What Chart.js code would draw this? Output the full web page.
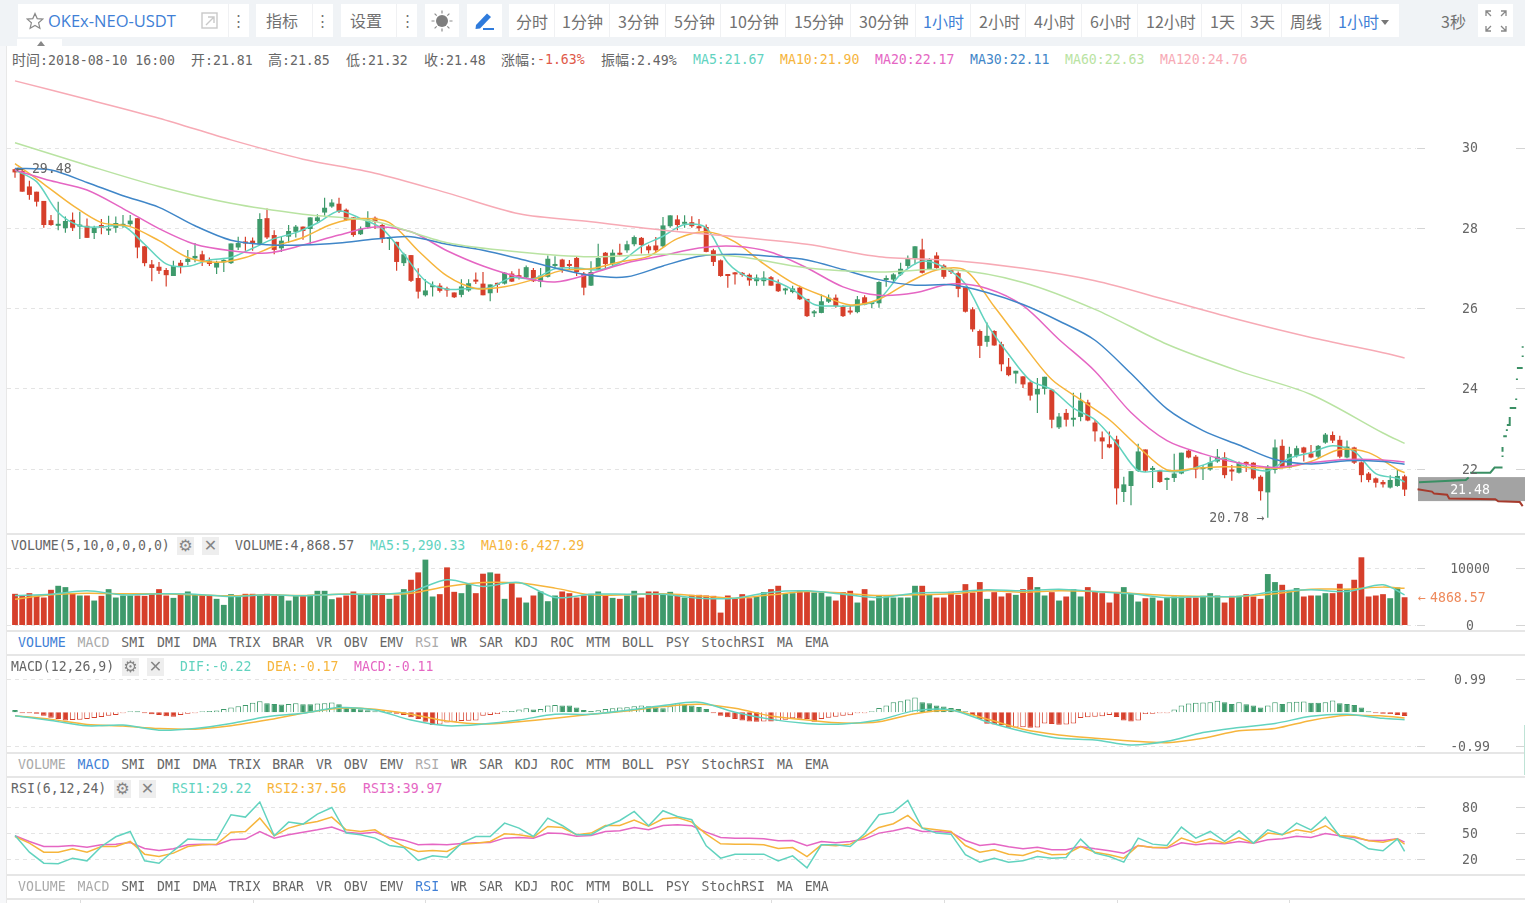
<!DOCTYPE html>
<html>
<head>
<meta charset="utf-8">
<title>OKEx-NEO-USDT</title>
<script src="https://cdn.jsdelivr.net/npm/chart.js@4/dist/chart.umd.min.js"></script>
<style>
  html, body { margin: 0; padding: 0; width: 1525px; height: 903px; overflow: hidden; background: #fff; }
  #toolbar { position: absolute; left: 0; top: 0; width: 1525px; height: 46px; background: #f0f3f6; }
  #strip { position: absolute; left: 0; top: 46px; width: 6px; height: 857px; background: #f6f7f9; border-right: 1px solid #e8e8e8; }
  .btn { position: absolute; top: 4px; height: 33px; background: #fff; }
  .tb { position: absolute; top: 10px; font: 16px "Noto Sans CJK SC", sans-serif; line-height: 22px; color: #717171; white-space: nowrap; }
  .blue { color: #3f7fd6; }
  .div { position: absolute; top: 4px; width: 1px; height: 33px; background: #f0f1f3; }
  .t { position: absolute; font: 13.2px "DejaVu Sans Mono", "Noto Sans CJK SC", monospace; line-height: 16px; color: #666; white-space: pre; }
  .t span { font-size: 14px; }
  .rule { position: absolute; left: 7px; width: 1518px; height: 2px; background: #e6e6e6; }
  .tabs { position: absolute; left: 18px; display: flex; gap: 11.95px; font: 13.2px "DejaVu Sans Mono", monospace; line-height: 16px; color: #666; }
  .ic { position: absolute; width: 17px; height: 18px; background: #eee; color: #858585; font: 16px "DejaVu Sans", sans-serif; line-height: 18px; text-align: center; }
  canvas { position: absolute; left: 0; }
  svg { position: absolute; }
</style>
</head>
<body>
<div id="toolbar"></div>
<div id="strip"></div>
<canvas id="priceChart" width="1525" height="458" style="top:75px"></canvas>
<canvas id="volChart" width="1525" height="75" style="top:555px"></canvas>
<canvas id="macdChart" width="1525" height="80" style="top:672px"></canvas>
<canvas id="rsiChart" width="1525" height="105" style="top:798px"></canvas>
<div id="labels"></div>

<script>
const opens = [
  29.46,29.42,29.03,28.9,28.67,28.19,28.05,27.99,28.2,28.03,
  28.05,27.87,28.07,27.93,28.0,28.05,28.09,28.24,27.54,27.09,
  27.03,26.95,26.8,27.13,27.15,27.24,27.34,27.18,27.01,27.14,
  27.12,27.51,27.64,27.68,27.59,28.24,27.82,27.49,27.78,27.9,
  28.03,27.97,28.17,28.38,28.53,28.6,28.45,28.26,27.84,28.02,
  28.25,28.07,27.72,27.65,27.12,27.32,26.75,26.32,26.52,26.56,
  26.47,26.39,26.33,26.44,26.7,26.61,26.37,26.6,26.61,26.86,
  26.79,26.76,26.95,26.66,26.78,27.05,27.21,27.08,27.25,26.86,
  26.56,26.96,27.38,27.09,27.35,27.44,27.59,27.75,27.54,27.56,
  27.54,28.04,28.21,28.1,28.14,28.02,28.02,27.44,27.19,26.82,
  26.86,26.85,26.83,26.67,26.67,26.77,26.61,26.44,26.4,26.51,
  26.23,25.87,25.88,26.16,26.26,26.05,25.92,25.9,26.27,26.1,
  26.12,26.7,26.71,26.84,27.05,27.23,27.46,26.96,27.31,27.06,
  26.93,26.87,26.52,25.97,25.43,25.16,25.43,25.1,24.54,24.37,
  24.3,24.15,23.85,23.99,23.97,23.03,23.39,23.22,23.29,23.65,
  23.15,22.78,22.61,22.73,21.42,21.57,21.95,22.48,21.97,21.95,
  21.72,21.77,21.88,22.45,22.3,21.99,21.98,22.18,22.28,21.96,
  21.9,22.15,22.15,21.8,21.41,21.97,22.57,22.03,22.32,22.53,
  22.38,22.3,22.65,22.84,22.72,22.28,22.53,22.16,21.88,21.76,
  21.67,21.53,21.57,21.81
];
const closes = [
  29.38,28.9,28.82,28.65,28.07,28.07,28.07,28.17,28.0,28.05,
  27.75,28.0,28.0,27.98,28.12,28.07,28.18,27.51,27.12,27.0,
  26.93,26.82,27.05,27.05,27.23,27.3,27.18,27.1,27.14,27.2,
  27.61,27.62,27.61,27.62,28.22,27.76,27.45,27.68,27.92,28.03,
  27.92,28.26,28.26,28.5,28.63,28.4,28.2,27.82,27.98,28.21,
  28.15,27.72,27.74,27.15,27.34,26.68,26.41,26.44,26.54,26.43,
  26.44,26.27,26.54,26.62,26.66,26.32,26.59,26.58,26.88,26.66,
  26.77,27.02,26.67,26.81,27.23,27.07,27.02,27.05,26.9,26.51,
  26.9,27.25,27.1,27.38,27.33,27.59,27.77,27.57,27.44,27.44,
  28.06,28.31,28.07,28.13,28.04,27.99,27.4,27.15,26.8,26.8,
  26.84,26.83,26.69,26.76,26.76,26.56,26.42,26.46,26.49,26.22,
  25.8,25.89,26.17,26.26,26.05,25.8,25.89,26.22,26.09,26.13,
  26.65,26.73,26.84,26.98,27.25,27.54,26.88,27.21,27.0,26.78,
  26.9,26.48,25.91,25.47,25.06,25.31,25.07,24.6,24.33,24.44,
  24.1,23.82,23.99,24.29,23.22,23.3,23.22,23.24,23.7,23.2,
  22.93,22.68,22.53,21.51,21.61,21.94,22.43,21.95,22.0,21.67,
  21.75,21.88,22.4,22.28,21.98,22.02,22.16,22.3,21.84,21.93,
  22.15,22.12,21.76,21.44,22.05,22.53,22.03,22.37,22.51,22.4,
  22.28,22.57,22.85,22.7,22.3,22.55,22.15,21.84,21.72,21.65,
  21.61,21.72,21.82,21.48
];
const highs = [
  29.48,29.48,29.17,28.9,28.67,28.32,28.65,28.28,28.38,28.4,
  28.23,28.05,28.22,28.3,28.28,28.32,28.32,28.24,27.54,27.2,
  27.15,27.0,27.18,27.2,27.45,27.62,27.43,27.26,27.18,27.22,
  27.61,27.78,27.78,27.76,28.36,28.48,27.94,27.78,28.07,28.07,
  28.03,28.26,28.34,28.75,28.71,28.75,28.48,28.26,28.03,28.41,
  28.28,28.1,27.74,27.65,27.38,27.32,26.99,26.72,26.66,26.62,
  26.53,26.39,26.72,26.72,26.89,26.9,26.59,26.63,26.9,26.92,
  26.98,27.06,27.0,27.0,27.31,27.29,27.23,27.2,27.28,26.9,
  27.17,27.6,27.4,27.46,27.6,27.68,27.81,27.77,27.58,27.77,
  28.27,28.31,28.31,28.31,28.29,28.22,28.08,27.48,27.21,26.84,
  26.9,26.9,26.86,26.84,26.92,26.8,26.71,26.51,26.56,26.56,
  26.23,25.95,26.34,26.34,26.34,26.07,26.07,26.3,26.32,26.17,
  26.67,26.81,26.87,27.13,27.31,27.54,27.73,27.25,27.39,27.09,
  26.99,26.91,26.52,26.02,25.47,25.64,25.45,25.16,24.76,24.44,
  24.3,24.18,24.26,24.29,23.99,23.39,23.49,23.89,23.89,23.72,
  23.22,22.93,22.93,22.82,21.8,21.94,22.62,22.48,22.07,21.97,
  21.78,22.37,22.4,22.48,22.34,22.09,22.3,22.49,22.41,22.09,
  22.18,22.18,22.16,21.84,22.09,22.73,22.73,22.55,22.57,22.55,
  22.59,22.59,22.89,22.93,22.82,22.7,22.55,22.18,21.92,21.78,
  21.72,21.84,21.98,21.85
];
const lows = [
  29.25,28.9,28.7,28.53,28.0,28.05,27.94,27.88,27.92,27.72,
  27.75,27.72,27.84,27.82,27.88,28.0,28.03,27.24,27.04,26.67,
  26.85,26.54,26.8,26.86,27.07,27.14,27.05,27.05,26.85,26.9,
  27.1,27.45,27.43,27.43,27.57,27.72,27.34,27.4,27.63,27.76,
  27.7,27.59,28.13,28.3,28.5,28.37,28.17,27.78,27.82,27.98,
  27.97,27.62,27.45,26.93,27.05,26.65,26.24,26.29,26.29,26.39,
  26.28,26.25,26.27,26.41,26.6,26.32,26.17,26.38,26.59,26.65,
  26.71,26.73,26.65,26.52,26.76,27.0,26.88,26.96,26.8,26.32,
  26.55,26.95,26.98,27.05,27.31,27.38,27.54,27.36,27.36,27.39,
  27.5,28.0,27.94,28.0,28.0,27.92,27.39,27.05,26.78,26.51,
  26.59,26.78,26.56,26.56,26.56,26.56,26.4,26.34,26.37,26.2,
  25.78,25.78,25.87,26.13,26.01,25.78,25.84,25.87,26.07,26.0,
  26.01,26.53,26.63,26.8,27.0,27.09,26.86,26.95,26.98,26.73,
  26.85,26.27,25.89,25.41,24.76,25.04,25.06,24.43,24.3,24.12,
  24.01,23.7,23.39,23.85,23.01,22.99,23.05,23.05,23.18,23.18,
  22.68,22.24,22.51,21.11,21.17,21.09,21.92,21.92,21.52,21.65,
  21.47,21.67,21.86,22.26,21.76,21.72,21.95,22.15,21.76,21.7,
  21.88,21.92,21.73,21.21,20.78,21.88,22.01,22.01,22.28,22.18,
  22.26,22.26,22.62,22.64,22.26,22.26,22.12,21.66,21.66,21.53,
  21.53,21.51,21.55,21.32
];

// moving averages are read every few candles, last value is the final candle
const ma5 = [
  29.44,29.15,28.38,28.05,28.02,28.05,27.59,27.1,27.04,27.2,27.26,27.49,27.73,27.88,28.12,28.42,28.23,27.98,27.34,26.68,26.47,26.49,
  26.51,26.76,26.73,26.98,27.0,26.95,27.13,27.54,27.79,28.08,28.0,27.13,26.76,26.7,26.46,26.09,26.05,26.07,26.22,26.84,27.17,27.02,
  26.6,25.6,24.85,24.2,23.97,23.51,23.22,22.63,21.95,21.95,21.93,22.09,22.26,22.05,21.95,22.26,22.4,22.57,22.43,21.88,21.76,21.67
];
const ma10 = [
  29.6,29.09,28.56,28.13,28.03,27.68,27.26,27.14,27.26,27.54,27.76,28.09,28.23,28.13,27.43,26.8,26.49,
  26.53,26.71,26.94,26.98,27.15,27.29,27.73,27.9,27.65,27.1,26.63,26.32,26.08,26.22,26.63,26.95,
  26.94,26.04,25.1,24.22,23.72,23.22,22.55,21.97,22.01,22.05,22.03,22.02,22.18,22.48,22.4,21.98,21.9
];
const ma20 = [
  29.44,29.17,28.94,28.48,27.98,27.59,27.43,27.37,27.57,27.82,28.02,27.9,27.43,
  27.05,26.78,26.65,26.86,27.13,27.31,27.5,27.54,27.39,27.0,26.53,26.32,26.38,
  26.6,26.49,26.06,25.22,24.43,23.4,22.7,22.37,22.14,22.03,22.15,22.23,22.22,22.17
];
const ma30 = [
  29.48,29.44,29.13,28.8,28.51,28.05,27.69,27.58,27.57,27.62,27.72,27.78,27.59,
  27.44,27.23,27.0,26.81,26.78,27.05,27.29,27.34,27.29,27.2,26.96,26.71,26.57,
  26.58,26.39,26.09,25.68,25.2,24.37,23.49,22.95,22.59,22.23,22.12,22.2,22.18,22.11
];
const ma60 = [30.12,29.56,29.03,28.61,28.34,28.16,27.63,27.4,27.28,27.34,27.29,27.0,26.9,26.96,26.64,25.97,25.1,24.43,23.85,22.89,22.63];
const ma120 = [31.66,31.2,30.73,30.19,29.71,29.36,28.87,28.35,28.15,27.94,27.78,27.59,27.28,27.19,26.99,26.68,26.2,25.71,25.27,24.89,24.76];

// order book depth to the right of the candles, candle slot and price, null breaks the line
const depthBidSlots = [
  195,201.5,201.9,201.9,202.1,204.9,205.5,206.6,206.6,
  206.6,206.6,206.6,206.6,206.6,206.6,
  206.7,207.2,207.2,207.2,207.2,207.2,
  207.2,207.6,207.6,207.6,
  207.6,208.5,208.5,
  208.5,208.5,208.5,
  208.6,208.6,208.6,
  208.6,209.4,209.4,
  209.4,209.4,209.4,
  209.4,209.4
];
const depthBidPrices = [
  21.66,21.72,21.78,null,21.9,21.9,22.03,22.03,null,
  22.29,22.33,null,22.42,22.54,null,
  22.81,22.81,null,22.94,22.98,null,
  23.09,23.09,23.29,null,
  23.51,23.51,null,
  23.71,23.75,null,
  24.21,24.25,null,
  24.51,24.51,null,
  24.78,24.82,null,
  25.01,25.05
];
const depthAskSlots = [194.8,196.8,197.1,198.9,199.2,205.6,206.0,209.0,209.4];
const depthAskPrices = [21.49,21.43,21.38,21.35,21.26,21.24,21.19,21.17,21.07];

const volumes = [
  5470,5175,5585,5175,4820,6175,6880,6645,5470,5175,
  5175,4290,5115,6290,4820,5175,5175,5175,5115,5585,
  6290,5175,4760,5290,5880,5290,5290,5175,4590,3530,
  5410,5115,5470,5470,5290,5470,5115,5115,4290,5175,
  5175,5290,6000,6000,4530,4820,5175,5880,5290,5290,
  5585,5585,4590,5175,6290,7940,9230,11470,5000,5410,
  10110,5820,5585,7350,5585,9000,9230,9000,4590,7350,
  4820,3940,5175,5880,4175,5175,5880,5585,4820,5175,
  5470,5880,5175,4760,4590,5175,6000,4820,5880,5880,
  5470,5820,5175,4820,5290,5290,5175,5115,2175,5175,
  4700,5410,4700,5000,5760,6290,6880,5470,5585,6000,
  6000,5700,5700,5000,4290,5760,6000,3940,6290,4290,
  5115,5000,4820,4820,4820,6880,6880,5290,4820,4820,
  5820,5290,7170,5700,7530,4590,5760,5000,5585,5290,
  6290,8410,6645,5175,5760,4290,5000,6290,5000,6645,
  5880,5585,3940,5760,6645,5470,4115,4700,4820,4290,
  4820,5000,5000,4820,4820,5115,5585,5175,3940,5115,
  5115,5410,5000,4590,8940,7530,7055,6055,6470,5000,
  5175,5175,5585,5585,7230,6350,7940,11880,5000,5175,
  5410,4700,6585,4868.57
];
const volMa5 = [5175,5410,6000,5290,5470,5410,5000,5290,5115,5410,5350,5880,7940,6760,7470,4820,5410,5410,5410,4700,4700,5760,6000,5410,4820,5585,5760,6175,6000,6290,5880,5470,4820,5000,5000,5880,6175,5880,7055,5290.33];
const volMa10 = [4530,5290,5585,5470,5470,5290,5115,5290,5175,5410,5410,5585,6760,7470,7350,6470,5290,5290,5470,5115,4700,5290,5880,5585,5175,5290,5470,6000,5760,6000,5880,5585,5175,5000,5000,5470,6290,6290,6645,6427.29];

const macdHist = [
  .07,-.02,-.03,-.04,-.1,-.16,-.2,-.24,-.23,-.22,
  -.2,-.17,-.14,-.1,-.08,-.03,.03,.01,-.01,-.06,
  -.08,-.12,-.13,-.08,-.04,-.02,.01,.04,.05,.1,
  .14,.18,.22,.28,.33,.27,.25,.23,.25,.27,
  .24,.24,.26,.27,.29,.24,.16,.13,.09,.06,
  .03,.02,0,-.04,-.08,-.15,-.2,-.28,-.38,-.36,
  -.3,-.28,-.26,-.25,-.24,-.1,-.08,-.05,.03,.04,
  .08,.12,.08,.1,.2,.22,.2,.2,.14,.07,
  .04,.06,.1,.12,.14,.15,.18,.2,.18,.14,
  .12,.18,.27,.22,.2,.16,.1,-.03,-.1,-.15,
  -.2,-.24,-.27,-.28,-.27,-.27,-.25,-.22,-.18,-.19,
  -.2,-.28,-.2,-.16,-.13,-.1,-.09,-.03,-.01,.01,
  .13,.2,.3,.33,.38,.44,.3,.27,.2,.17,
  .13,.1,.02,-.08,-.2,-.34,-.36,-.38,-.46,-.45,
  -.44,-.46,-.45,-.33,-.35,-.37,-.36,-.33,-.17,-.15,
  -.13,-.12,-.08,-.14,-.24,-.27,-.24,-.05,-.04,-.02,
  -.01,.08,.2,.26,.28,.29,.3,.34,.3,.25,
  .3,.24,.2,.14,.2,.3,.25,.3,.31,.32,
  .28,.28,.3,.35,.27,.25,.22,.14,.02,-.02,
  -.04,-.05,-.08,-.11
];
const macdDif = [-.1,-.24,-.4,-.38,-.53,-.48,-.33,-.13,-.03,.14,.07,-.23,-.4,-.35,-.23,-.06,-.06,.06,.2,.3,0,-.21,-.33,-.35,-.23,.05,.07,-.28,-.57,-.77,-.82,-.97,-.86,-.6,-.45,-.33,-.12,-.06,-.18,-.22];
const macdDea = [-.1,-.21,-.36,-.41,-.48,-.5,-.4,-.23,-.03,.12,.09,-.06,-.26,-.35,-.28,-.18,-.06,.04,.17,.24,.12,-.11,-.23,-.32,-.28,-.04,.06,-.2,-.5,-.67,-.77,-.85,-.9,-.77,-.55,-.48,-.24,-.09,-.11,-.17];

const rsi1 = [
  47.7,28.4,15.7,15,21.5,18.4,35,46.2,52.3,18.4,
  15.7,30,43.5,42.7,42.7,71.6,68.9,86.2,47.3,63.1,
  60.8,72.3,80,50.4,48.5,44.6,36.1,33.8,18.8,24.2,
  22.7,38.8,46.5,46.5,61.9,56.2,46.5,67.7,59.2,48.5,
  48.5,58.1,65,75.4,58.9,76.2,69.6,65.8,35.8,21.5,
  26.1,26.1,
  26.1,18.4,24.2,10.3,36.9,36.9,35,49.6,71.6,74.6,
  88,56.2,50.4,49.2,25.4,16.9,21.5,16.9,18.4,23.4,
  21.5,22.3,43.5,27.3,23.4,16.9,44.6,37.7,36.1,57.3,
  44.6,52.3,40.8,53.1,38.8,54.2,48.5,61.9,54.2,68.9,
  46.5,42.7,32.3,30,43.8,29.22
];
const rsi2 = [
  46.5,38.8,28.4,28.4,32.3,28.4,35,35,40.8,26.1,
  23.4,27.3,35,36.9,37.7,51.5,52.3,67.7,47.3,56.2,
  60.8,63.9,68.9,54.2,52.3,54.2,43.8,35,29.2,30.4,
  29.2,37.7,38.8,40.8,49.6,48.5,45.8,58.1,56.9,48.5,
  50.4,59.2,59.2,65.4,58.5,66.9,68.5,63.1,49.2,38.1,
  37.7,37.7,
  36.9,32.7,33.8,23.4,36.9,35.8,37.7,46.5,56.9,61.2,
  70.8,56.2,54.2,52.3,36.1,28.4,31.1,26.1,24.6,30,
  25.4,26.1,35,28.4,25.4,21.5,36.1,33.8,33.8,44.6,
  39.2,43.8,38.8,45.4,38.8,50.4,48.5,54.2,51.5,58.9,
  47.7,46.5,41.5,40,43.8,37.56
];
const rsi3 = [
  47.3,40.8,35,35,36.1,34.2,36.9,37.7,39.6,32.7,
  30.4,32.3,36.9,37.7,36.9,42.7,43.5,52.3,44.6,48.5,
  51.5,54.2,57.3,51.5,50,51.5,45.4,42.3,36.9,37.7,
  36.9,38.5,39.2,39.6,44.6,45.4,44.6,50.4,50,46.9,
  47.7,52.3,53.1,56.9,54.2,59.2,60,58.9,51.5,45.4,
  44.6,44.6,
  43.8,41.5,41.9,35.8,40.8,39.2,40.8,43.5,50.4,53.1,
  56.9,52.3,52.3,51.2,41.9,36.1,37.7,34.6,32.3,34.2,
  31.1,31.1,35,32.3,30,27.3,36.1,33.8,33.1,39.2,
  36.9,38.8,38.1,40.8,38.8,42.7,43.8,46.9,45.4,50,
  47.3,45.4,41.9,41.9,43.8,39.97
];

const priceTicks = [22, 24, 26, 28, 30];
const volTicks = [0, 10000];
const macdTicks = [-0.99, 0.99];
const rsiTicks = [20, 50, 80];

const RED = '#d63f2b';
const GREEN = '#3e9a6b';
const C_MA5 = '#62d3bf';
const C_MA10 = '#f6b53c';
const C_MA20 = '#e566c3';
const C_MA30 = '#3f86c8';
const C_MA60 = '#b9e3a2';
const C_MA120 = '#f7aab5';
const LAST = opens.length - 1;
const SLOT = 7.2;     // pixels per candle
const FIRST_X = 15;   // centre of the first candle
const WIDTH = 1525;
const MONO = '13.2px "DejaVu Sans Mono"';

const sampled = (values, step) => values.map((y, k) => ({ x: Math.min(k * step, LAST), y }));
const upDown = i => (closes[i] >= opens[i] ? GREEN : RED);
const lineSet = (values, step, color, tension) => ({
  type: 'line', data: sampled(values, step), borderColor: color, borderWidth: 1.5,
  pointRadius: 0, tension: tension, order: 0,
});

// y gridlines, stubs and the centred axis labels
const axisPlugin = {
  id: 'axisDecor',
  beforeDatasetsDraw(chart) {
    const { ctx, scales: { y } } = chart;
    ctx.save();
    y.ticks.forEach(t => {
      const py = Math.round(y.getPixelForValue(t.value)) + 0.5;
      ctx.strokeStyle = '#e4e4e4';
      ctx.lineWidth = 1;
      ctx.setLineDash([4, 4]);
      ctx.beginPath(); ctx.moveTo(7, py); ctx.lineTo(1416, py); ctx.stroke();
      ctx.setLineDash([]);
      ctx.strokeStyle = '#d4d4d4';
      ctx.beginPath(); ctx.moveTo(1417, py); ctx.lineTo(1425, py);
      ctx.moveTo(1516, py); ctx.lineTo(1525, py); ctx.stroke();
    });
    ctx.restore();
  },
  afterDatasetsDraw(chart) {
    const { ctx, scales: { y } } = chart;
    ctx.save();
    ctx.font = MONO;
    ctx.fillStyle = '#666';
    ctx.textAlign = 'center';
    ctx.textBaseline = 'middle';
    y.ticks.forEach(t => ctx.fillText(t.label, 1470, y.getPixelForValue(t.value) + 1.5));
    ctx.restore();
  },
};

const baseOptions = (yMin, yMax, ticks) => ({
  responsive: false,
  animation: false,
  events: [],
  layout: { padding: 0 },
  plugins: { legend: { display: false }, tooltip: { enabled: false } },
  scales: {
    x: { type: 'linear', display: false, offset: false, min: -FIRST_X / SLOT, max: (WIDTH - FIRST_X) / SLOT },
    y: {
      position: 'right', min: yMin, max: yMax,
      grid: { display: false }, border: { display: false },
      ticks: { display: false },
      afterFit: s => { s.width = 0; },
      afterBuildTicks: s => { s.ticks = ticks.map(value => ({ value })); },
      afterTickToLabelConversion: s => { s.ticks.forEach(t => { t.label = String(t.value); }); },
    },
  },
});

// extras on the price chart: last price box under the depth lines, notes on top
const pricePlugin = {
  id: 'priceNotes',
  beforeDatasetsDraw(chart) {
    const { ctx, scales: { y } } = chart;
    ctx.save();
    ctx.fillStyle = '#a3a3a3';
    ctx.fillRect(1418, y.getPixelForValue(closes[LAST]) - 12.5, 107, 24);
    ctx.restore();
  },
  afterDatasetsDraw(chart) {
    const { ctx, scales: { x, y } } = chart;
    const hi = Math.max(...highs), lo = Math.min(...lows);
    ctx.save();
    ctx.font = MONO;
    ctx.fillStyle = '#666';
    ctx.textBaseline = 'middle';
    ctx.textAlign = 'left';
    ctx.fillText('\u2190 ' + hi.toFixed(2), x.getPixelForValue(highs.indexOf(hi)) + 1, y.getPixelForValue(hi) + 1);
    ctx.textAlign = 'right';
    ctx.fillText(lo.toFixed(2) + ' \u2192', x.getPixelForValue(lows.indexOf(lo)) - 3, y.getPixelForValue(lo) + 1);
    const last = closes[LAST], py = y.getPixelForValue(last);
    ctx.fillStyle = '#fff';
    ctx.textAlign = 'center';
    ctx.fillText(last.toFixed(2), 1470, py + 0.5);
    ctx.restore();
  },
};

const volPlugin = {
  id: 'volNote',
  afterDatasetsDraw(chart) {
    const { ctx, scales: { y } } = chart;
    const py = y.getPixelForValue(volumes[LAST]) + 1;
    ctx.save();
    ctx.font = MONO;
    ctx.fillStyle = '#ee8a5c';
    ctx.textBaseline = 'middle';
    ctx.fillText('\u2190', 1418, py);
    ctx.fillText(volumes[LAST].toFixed(2), 1430, py);
    ctx.restore();
  },
};

// time ticks along the bottom edge
const timeTicksPlugin = {
  id: 'timeTicks',
  afterDraw(chart) {
    const { ctx, scales: { x } } = chart;
    ctx.save();
    ctx.strokeStyle = '#ddd';
    for (let i = 9; i <= LAST; i += 24) {
      const px = Math.round(x.getPixelForValue(i)) + 0.5;
      ctx.beginPath(); ctx.moveTo(px, 100); ctx.lineTo(px, 105); ctx.stroke();
    }
    ctx.restore();
  },
};

new Chart(document.getElementById('priceChart'), {
  type: 'line',
  plugins: [axisPlugin, pricePlugin],
  options: baseOptions(20.399, 31.806, priceTicks),
  data: {
    datasets: [
      lineSet(ma120, 10, C_MA120, 0.3),
      lineSet(ma60, 10, C_MA60, 0.3),
      lineSet(ma30, 5, C_MA30, 0.3),
      lineSet(ma20, 5, C_MA20, 0.3),
      lineSet(ma10, 4, C_MA10, 0.3),
      lineSet(ma5, 3, C_MA5, 0.3),
      {
        type: 'line', data: depthBidSlots.map((x, i) => ({ x, y: depthBidPrices[i] })),
        borderColor: '#3a8f64', borderWidth: 2, pointRadius: 0, order: 0, spanGaps: false,
      },
      {
        type: 'line', data: depthAskSlots.map((x, i) => ({ x, y: depthAskPrices[i] })),
        borderColor: '#a63a2c', borderWidth: 2, pointRadius: 0, order: 0,
      },
      {
        type: 'bar', grouped: false, order: 1, minBarLength: 2,
        categoryPercentage: 1, barPercentage: 5 / SLOT,
        data: opens.map((o, i) => ({ x: i, y: [Math.min(o, closes[i]), Math.max(o, closes[i])] })),
        backgroundColor: opens.map((o, i) => upDown(i)),
      },
      {
        type: 'bar', grouped: false, order: 2,
        categoryPercentage: 1, barPercentage: 1.2 / SLOT,
        data: opens.map((o, i) => ({ x: i, y: [lows[i], highs[i]] })),
        backgroundColor: opens.map((o, i) => upDown(i)),
      },
    ],
  },
});

new Chart(document.getElementById('volChart'), {
  type: 'line',
  plugins: [axisPlugin, volPlugin],
  options: baseOptions(-877, 12281, volTicks),
  data: {
    datasets: [
      lineSet(volMa5, 5, C_MA5, 0.3),
      lineSet(volMa10, 5, C_MA10, 0.3),
      {
        type: 'bar', grouped: false, order: 1,
        categoryPercentage: 1, barPercentage: 5.8 / SLOT,
        data: volumes.map((v, i) => ({ x: i, y: v })),
        backgroundColor: volumes.map((v, i) => upDown(i)),
      },
    ],
  },
});

// rising histogram bars are hollow, falling ones solid
const histColor = i => (macdHist[i] >= 0 ? GREEN : RED);
const histRising = i => i > 0 && macdHist[i] > macdHist[i - 1];

new Chart(document.getElementById('macdChart'), {
  type: 'line',
  plugins: [axisPlugin],
  options: baseOptions(-1.178, 1.196, macdTicks),
  data: {
    datasets: [
      lineSet(macdDif, 5, C_MA5, 0.3),
      lineSet(macdDea, 5, C_MA10, 0.3),
      {
        type: 'bar', grouped: false, order: 1, minBarLength: 1,
        categoryPercentage: 1, barPercentage: 5.5 / SLOT,
        data: macdHist.map((v, i) => ({ x: i, y: v })),
        backgroundColor: macdHist.map((v, i) => (histRising(i) ? '#fff' : histColor(i))),
        borderColor: macdHist.map((v, i) => histColor(i)),
        borderWidth: 1,
      },
    ],
  },
});

new Chart(document.getElementById('rsiChart'), {
  type: 'line',
  plugins: [axisPlugin, timeTicksPlugin],
  options: baseOptions(-30.2, 90.9, rsiTicks),
  data: {
    datasets: [
      lineSet(rsi1, 2, C_MA5, 0),
      lineSet(rsi2, 2, C_MA10, 0),
      lineSet(rsi3, 2, C_MA20, 0),
    ],
  },
});

// page furniture around the charts
const host = document.getElementById('labels');
const add = (cls, css, text) => {
  const el = document.createElement('div');
  el.className = cls;
  el.style.cssText = css;
  if (text !== undefined) el.textContent = text;
  host.appendChild(el);
  return el;
};
// the CJK glyphs sit a little larger than the mono digits
const addMono = (css, text) => {
  const el = add('t', css);
  el.innerHTML = text.replace(/[\u4e00-\u9fff]+/g, m => `<span>${m}</span>`);
};

[[18, 231], [256, 77], [341, 76], [425, 34], [467, 35], [509, 890], [1478, 35]].forEach(([x, w]) => {
  add('btn', `left:${x}px;width:${w}px`);
});
add('btn', 'left:17px;top:39px;width:45px;height:8px');
add('', 'position:absolute;left:37px;top:41px;width:0;height:0;border-left:4px solid transparent;border-right:4px solid transparent;border-bottom:5px solid #888');
[228, 312, 396, 554, 609, 665, 720, 785, 850, 915, 970, 1025, 1081, 1137, 1201, 1241, 1281, 1329].forEach(x => add('div', `left:${x}px`));

add('tb blue', 'left:48px;font-family:"Open Sans";font-size:16.5px', 'OKEx-NEO-USDT');
[238, 322, 407].forEach(x => add('tb', `left:${x - 7}px;top:9px;font-size:15px`, '\u22EE'));
add('tb', 'left:266px;top:9px', '指标');
add('tb', 'left:350px;top:9px', '设置');
const periods = [[516, '分时'], [562, '1分钟'], [618, '3分钟'], [674, '5分钟'], [729, '10分钟'], [794, '15分钟'], [859, '30分钟'], [923, '1小时', 1], [979, '2小时'], [1034, '4小时'], [1090, '6小时'], [1146, '12小时'], [1210, '1天'], [1250, '3天'], [1290, '周线'], [1338, '1小时', 1]];
periods.forEach(([x, s, on]) => add(on ? 'tb blue' : 'tb', `left:${x}px`, s));
add('', 'position:absolute;left:1381px;top:20px;width:0;height:0;border-left:4px solid transparent;border-right:4px solid transparent;border-top:5px solid #777');
add('tb', 'left:1441px', '3秒');

host.insertAdjacentHTML('beforeend', `
<svg style="left:26px;top:12px" width="18" height="18" viewBox="0 0 18 18" fill="none" stroke="#8a8a8a" stroke-width="1.2"><path d="M9 1.5 L11.2 6.6 L16.8 7.1 L12.6 10.8 L13.9 16.3 L9 13.4 L4.1 16.3 L5.4 10.8 L1.2 7.1 L6.8 6.6 Z"/></svg>
<svg style="left:201px;top:12px" width="18" height="18" viewBox="0 0 18 18" fill="none" stroke="#c9c9c9" stroke-width="1.4"><rect x="1" y="1" width="15" height="15"/><path d="M5 13 L13 5 M7 5 H13 V11"/></svg>
<svg style="left:431px;top:10px" width="22" height="22" viewBox="0 0 22 22" stroke="#8c8c8c" stroke-width="1.2"><circle cx="11" cy="11" r="6" fill="#7e7e7e" stroke="none"/><path d="M11 0.5 V3.5 M11 18.5 V21.5 M0.5 11 H3.5 M18.5 11 H21.5 M3.6 3.6 L5.7 5.7 M16.3 16.3 L18.4 18.4 M18.4 3.6 L16.3 5.7 M5.7 16.3 L3.6 18.4"/></svg>
<svg style="left:473px;top:11px" width="22" height="20" viewBox="0 0 22 20"><path d="M3 14 L14 2.5 L18 6 L7 17.5 L2.5 18 Z" fill="#2f7bdc"/><rect x="10" y="17" width="11" height="2" fill="#2f7bdc"/></svg>
<svg style="left:1485px;top:10px" width="22" height="22" viewBox="0 0 22 22" fill="none" stroke="#888" stroke-width="1.3"><path d="M1 6 V1 H6 M1 1 L6 6 M16 1 H21 V6 M21 1 L16 6 M1 16 V21 H6 M1 21 L6 16 M16 21 H21 V16 M21 21 L16 16"/></svg>`);

const infoLine = [
  [12, '时间:2018-08-10 16:00'], [191, '开:21.81'], [268, '高:21.85'], [346, '低:21.32'], [424, '收:21.48'],
  [501, '涨幅:'], [537, '-1.63%', '#e0594a'], [601, '振幅:2.49%'],
  [693, 'MA5:21.67', C_MA5], [780, 'MA10:21.90', C_MA10], [875, 'MA20:22.17', C_MA20],
  [970, 'MA30:22.11', C_MA30], [1065, 'MA60:22.63', C_MA60], [1160, 'MA120:24.76', C_MA120],
];
infoLine.forEach(([x, s, c]) => addMono(`left:${x}px;top:52px;${c ? 'color:' + c : ''}`, s));

const panelLines = [
  [538, [[11, 'VOLUME(5,10,0,0,0,0)'], [235, 'VOLUME:4,868.57'], [370, 'MA5:5,290.33', C_MA5], [481, 'MA10:6,427.29', C_MA10]], 177],
  [659, [[11, 'MACD(12,26,9)'], [180, 'DIF:-0.22', C_MA5], [267, 'DEA:-0.17', C_MA10], [354, 'MACD:-0.11', C_MA20]], 122],
  [781, [[11, 'RSI(6,12,24)'], [172, 'RSI1:29.22', C_MA5], [267, 'RSI2:37.56', C_MA10], [363, 'RSI3:39.97', C_MA20]], 114],
];
panelLines.forEach(([y, items, iconX]) => {
  items.forEach(([x, s, c]) => addMono(`left:${x}px;top:${y}px;${c ? 'color:' + c : ''}`, s));
  add('ic', `left:${iconX}px;top:${y - 1}px`, '\u2699');
  add('ic', `left:${iconX + 25}px;top:${y - 1}px`, '\u2715');
});

[533, 630, 654, 752, 776, 874, 898].forEach(y => add('rule', `top:${y}px`));
add('', 'position:absolute;left:1524px;top:725px;width:1px;height:50px;background:#bfe3d6');

const tabNames = ['VOLUME', 'MACD', 'SMI', 'DMI', 'DMA', 'TRIX', 'BRAR', 'VR', 'OBV', 'EMV', 'RSI', 'WR', 'SAR', 'KDJ', 'ROC', 'MTM', 'BOLL', 'PSY', 'StochRSI', 'MA', 'EMA'];
[[635, 'VOLUME'], [757, 'MACD'], [879, 'RSI']].forEach(([y, active]) => {
  const row = add('tabs', `top:${y}px`);
  tabNames.forEach(n => {
    const s = document.createElement('span');
    s.textContent = n;
    if (n === active) s.style.color = '#3f7fd6';
    else if (n === 'VOLUME' || n === 'MACD' || n === 'RSI') s.style.color = '#aaa';
    row.appendChild(s);
  });
});
</script>
</body>
</html>
